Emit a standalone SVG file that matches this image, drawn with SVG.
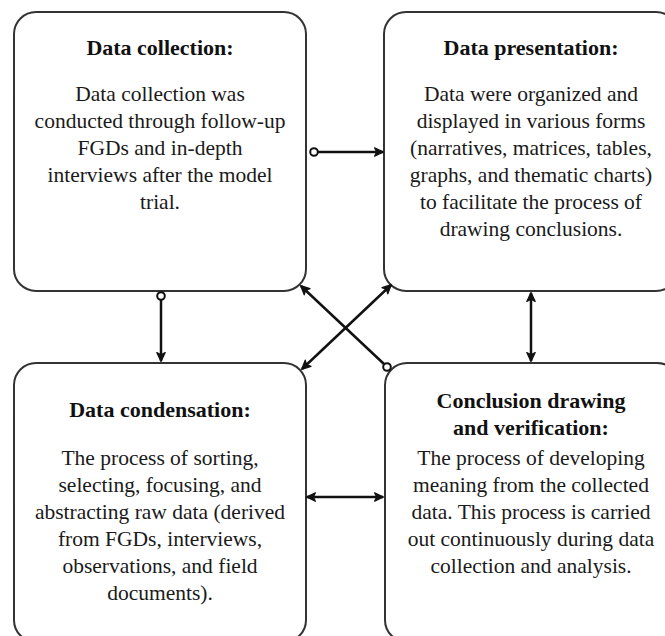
<svg xmlns="http://www.w3.org/2000/svg" width="665" height="636" viewBox="0 0 665 636">
<style>
.box{fill:#fff;stroke:#333;stroke-width:2}
.t{font-family:"Liberation Serif","Times New Roman",serif;font-weight:bold;font-size:22px;fill:#111;text-anchor:middle}
.b{font-family:"Liberation Serif","Times New Roman",serif;font-size:21.5px;fill:#1a1a1a;text-anchor:middle}
.c{stroke:#111;stroke-width:2.5;fill:none}
.dot{fill:#fff;stroke:#111;stroke-width:2}
</style>
<defs>
<marker id="ah" viewBox="0 0 10 10" refX="9" refY="5" markerWidth="4.2" markerHeight="4.2" orient="auto-start-reverse" markerUnits="strokeWidth">
<path d="M1,1 L9.5,5 L1,9 L3,5 Z" fill="#111" stroke="#111" stroke-width="1.2" stroke-linejoin="round"/>
</marker>
</defs>
<rect width="665" height="636" fill="#fff"/>
<g id="collection">
<rect class="box" x="14" y="12" width="292" height="279" rx="22"/>
<text class="t" x="160" y="55">Data collection:</text>
<text class="b" x="160" y="101">Data collection was</text>
<text class="b" x="160" y="128">conducted through follow-up</text>
<text class="b" x="160" y="155">FGDs and in-depth</text>
<text class="b" x="160" y="182">interviews after the model</text>
<text class="b" x="160" y="209">trial.</text>
</g>
<g id="presentation">
<rect class="box" x="384" y="12" width="294" height="279" rx="22"/>
<text class="t" x="531" y="55">Data presentation:</text>
<text class="b" x="531" y="101">Data were organized and</text>
<text class="b" x="531" y="128">displayed in various forms</text>
<text class="b" x="531" y="155">(narratives, matrices, tables,</text>
<text class="b" x="531" y="182">graphs, and thematic charts)</text>
<text class="b" x="531" y="209">to facilitate the process of</text>
<text class="b" x="531" y="236">drawing conclusions.</text>
</g>
<g id="condensation">
<rect class="box" x="14" y="363" width="292" height="279" rx="22"/>
<text class="t" x="160" y="417">Data condensation:</text>
<text class="b" x="160" y="465">The process of sorting,</text>
<text class="b" x="160" y="492">selecting, focusing, and</text>
<text class="b" x="160" y="519">abstracting raw data (derived</text>
<text class="b" x="160" y="546">from FGDs, interviews,</text>
<text class="b" x="160" y="573">observations, and field</text>
<text class="b" x="160" y="600">documents).</text>
</g>
<g id="conclusion">
<rect class="box" x="385" y="363" width="294" height="279" rx="22"/>
<text class="t" x="531" y="408">Conclusion drawing</text>
<text class="t" x="531" y="435">and verification:</text>
<text class="b" x="531" y="465">The process of developing</text>
<text class="b" x="531" y="492">meaning from the collected</text>
<text class="b" x="531" y="519">data. This process is carried</text>
<text class="b" x="531" y="546">out continuously during data</text>
<text class="b" x="531" y="573">collection and analysis.</text>
</g>
<g id="connectors">
<line class="c" x1="318" y1="152" x2="383" y2="152" marker-end="url(#ah)"/>
<circle class="dot" cx="314" cy="152" r="3.8"/>
<line class="c" x1="161" y1="300" x2="161" y2="361" marker-end="url(#ah)"/>
<circle class="dot" cx="161" cy="296" r="3.8"/>
<line class="c" x1="531" y1="293" x2="531" y2="361" marker-start="url(#ah)" marker-end="url(#ah)"/>
<line class="c" x1="307" y1="497" x2="383" y2="497" marker-start="url(#ah)" marker-end="url(#ah)"/>
<line class="c" x1="384" y1="364" x2="301" y2="286" marker-end="url(#ah)"/>
<circle class="dot" cx="387" cy="367" r="3.8"/>
<line class="c" x1="302" y1="369" x2="391" y2="285" marker-start="url(#ah)" marker-end="url(#ah)"/>
</g>
</svg>
